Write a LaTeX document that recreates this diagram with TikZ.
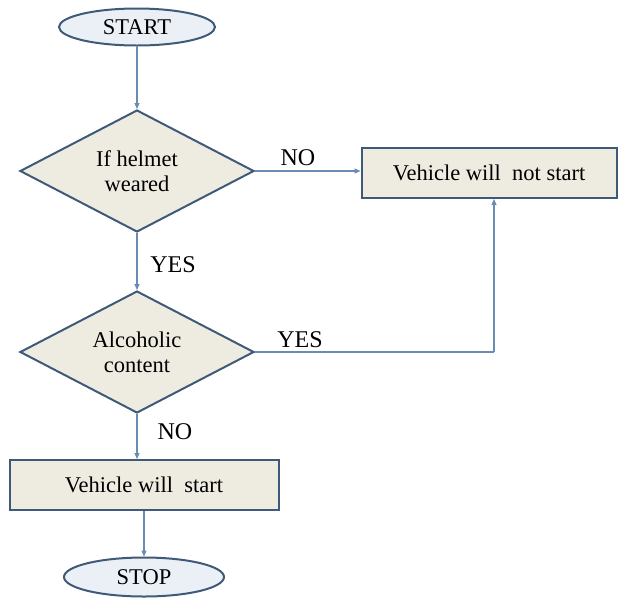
\documentclass[tikz,border=0pt]{standalone}
\usepackage{fontspec}
\setmainfont{Liberation Serif}
\usetikzlibrary{shapes.geometric,arrows.meta}
\definecolor{bordc}{HTML}{3F5A78}
\definecolor{linec}{HTML}{6A8CB2}
\definecolor{beige}{HTML}{EEECE1}
\definecolor{ellfill}{HTML}{EBF0F7}
\tikzset{
  base/.style={draw=bordc, line width=2pt, font=\fontsize{22.5}{25}\selectfont, align=center, inner sep=0pt},
  term/.style={base, ellipse, fill=ellfill},
  decision/.style={base, diamond, fill=beige, minimum width=234pt, minimum height=122pt, aspect=1.92},
  procbox/.style={base, rectangle, fill=beige},
  conn/.style={draw=linec, line width=1.1pt, -{Triangle[length=6pt,width=5pt]}},
  lbl/.style={font=\fontsize{24}{26}\selectfont, inner sep=0pt}
}
\begin{document}
\begin{tikzpicture}[x=1pt,y=-1pt]
\useasboundingbox (0,0) rectangle (621,598);
\node[term, minimum width=156pt, minimum height=37pt] (start) at (137,27) {START};
\node[decision] (d1) at (137,171) {If helmet\\weared};
\node[procbox, minimum width=255pt, minimum height=50pt] (nostart) at (489,173) {Vehicle will\ \ not start};
\node[decision] (d2) at (137,352) {Alcoholic\\content};
\node[procbox, minimum width=269pt, minimum height=50pt] (vstart) at (144,485) {Vehicle will\ \ start};
\node[term, minimum width=160pt, minimum height=39pt] (stop) at (144,577) {STOP};
\coordinate (corner) at (494,352);
\draw[conn] (start) -- (d1);
\draw[conn] (d1.east) -- (nostart.west |- d1.east);
\draw[conn] (d1) -- (d2);
\draw[conn, -] (d2.east) -- (corner);
\draw[conn] (corner) -- (corner |- nostart.south);
\draw[conn] (d2.south) -- (d2.south |- vstart.north);
\draw[conn] (vstart.south -| stop.north) -- (stop.north);
\node[lbl] (lno1) at (298,158) {NO};
\node[lbl] (lyes1) at (173,265) {YES};
\node[lbl] (lyes2) at (300,340) {YES};
\node[lbl] (lno2) at (175,432) {NO};
\end{tikzpicture}
\end{document}
